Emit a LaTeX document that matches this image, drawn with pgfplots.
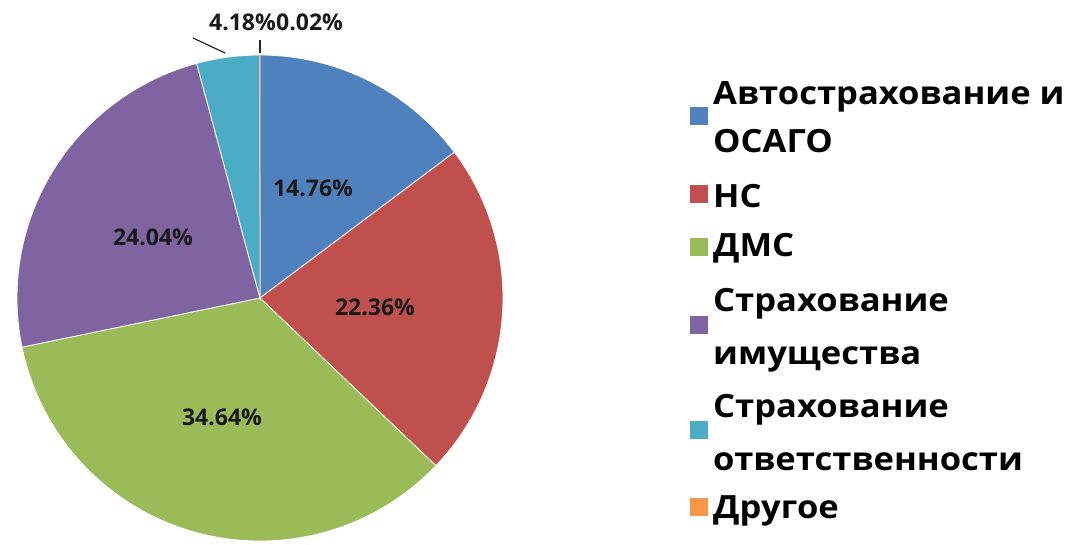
\documentclass[border=0pt]{standalone}
\usepackage{pgfplots}
\pgfplotsset{compat=1.18}
\usepackage{fontspec}
\setmainfont{Open Sans}
\newfontfamily\lgfont[FakeStretch=1.08]{Open Sans}
\definecolor{cBlue}{HTML}{4F81BD}
\definecolor{cRed}{HTML}{C0504D}
\definecolor{cGreen}{HTML}{9BBB59}
\definecolor{cPurple}{HTML}{8064A2}
\definecolor{cCyan}{HTML}{4BACC6}
\definecolor{cOrange}{HTML}{F79646}
\begin{document}
\begin{tikzpicture}
\begin{axis}[x=1pt,y=1pt,xmin=0,xmax=1068,ymin=-544,ymax=0,hide axis,clip=false]
\path (axis cs:0,0) rectangle (axis cs:1068,-544);
% shares (%): 14.76, 22.36, 34.64, 24.04, 4.18, 0.02 ; clockwise from 12 o'clock
\addplot[fill=cBlue,draw=white,line width=0.8pt,domain={90-3.6*14.76}:{90},samples=60]
  ({260+243*cos(x)},{-298+243*sin(x)}) -- (260,-298) -- cycle;
\addplot[fill=cRed,draw=white,line width=0.8pt,domain={90-3.6*(14.76+22.36)}:{90-3.6*14.76},samples=80]
  ({260+243*cos(x)},{-298+243*sin(x)}) -- (260,-298) -- cycle;
\addplot[fill=cGreen,draw=white,line width=0.8pt,domain={90-3.6*(37.12+34.64)}:{90-3.6*37.12},samples=110]
  ({260+243*cos(x)},{-298+243*sin(x)}) -- (260,-298) -- cycle;
\addplot[fill=cPurple,draw=white,line width=0.8pt,domain={90-3.6*(71.76+24.04)}:{90-3.6*71.76},samples=80]
  ({260+243*cos(x)},{-298+243*sin(x)}) -- (260,-298) -- cycle;
\addplot[fill=cCyan,draw=white,line width=0.8pt,domain={90-3.6*(95.80+4.18)}:{90-3.6*95.80},samples=20]
  ({260+243*cos(x)},{-298+243*sin(x)}) -- (260,-298) -- cycle;
\addplot[fill=cOrange,draw=cOrange,line width=0.3pt,domain={90-3.6*(99.98+0.02)}:{90-3.6*99.98},samples=2]
  ({260+243*cos(x)},{-298+243*sin(x)}) -- (260,-298) -- cycle;
% data labels
\begin{scope}[every node/.style={font=\bfseries\fontsize{23}{26}\selectfont,text=black!90,inner sep=0pt}]
\node at (axis cs:313,-188) {14.76\%};
\node at (axis cs:375,-307) {22.36\%};
\node at (axis cs:222,-417) {34.64\%};
\node at (axis cs:153,-237) {24.04\%};
\node[anchor=base east] at (axis cs:276,-31) {4.18\%};
\node[anchor=base west] at (axis cs:276,-31) {0.02\%};
\end{scope}
\draw[black!85,line width=1.2pt] (axis cs:193,-38) -- (axis cs:225,-53);
\draw[black!85,line width=1.2pt] (axis cs:260,-40) -- (axis cs:260,-53);
% legend
\fill[cBlue]   (axis cs:690,-107) rectangle (axis cs:708,-125);
\fill[cRed]    (axis cs:690,-185) rectangle (axis cs:708,-203);
\fill[cGreen]  (axis cs:690,-238) rectangle (axis cs:708,-256);
\fill[cPurple] (axis cs:690,-316) rectangle (axis cs:708,-334);
\fill[cCyan]   (axis cs:690,-421) rectangle (axis cs:708,-439);
\fill[cOrange] (axis cs:690,-498) rectangle (axis cs:708,-516);
\begin{scope}[every node/.style={font=\lgfont\bfseries\fontsize{32}{36}\selectfont,anchor=base west,inner sep=0pt}]
\node at (axis cs:713,-105) {Автострахование и};
\node at (axis cs:713,-153) {ОСАГО};
\node at (axis cs:713,-208) {НС};
\node at (axis cs:713,-257) {ДМС};
\node at (axis cs:713,-312) {Страхование};
\node at (axis cs:713,-365) {имущества};
\node at (axis cs:713,-417) {Страхование};
\node at (axis cs:713,-470) {ответственности};
\node at (axis cs:713,-518) {Другое};
\end{scope}
\end{axis}
\end{tikzpicture}
\end{document}
